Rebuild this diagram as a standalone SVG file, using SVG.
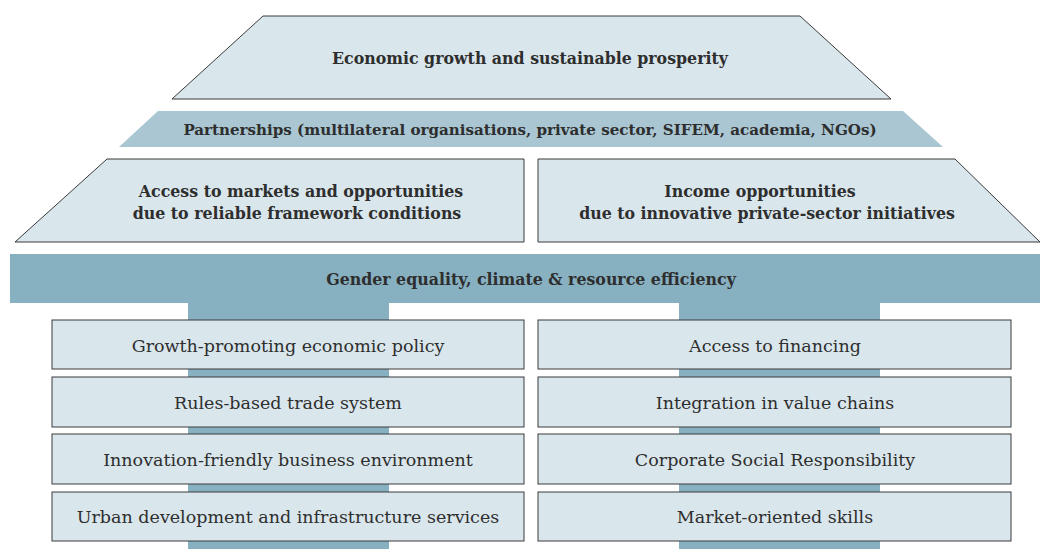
<svg xmlns="http://www.w3.org/2000/svg" width="1041" height="549" viewBox="0 0 1041 549">
<style>
.light{fill:#d9e6ec;stroke:#3a3a3a;stroke-width:1}
.band{fill:#87b0c1}
.pband{fill:#a9c6d2}
text{font-family:"DejaVu Serif","Liberation Serif",serif;fill:#2e2e2e;text-anchor:middle}
.b{font-weight:bold;font-size:15.8px}
.p{font-weight:bold;font-size:15.1px}
.r{font-size:17.5px}
</style>
<rect width="1041" height="549" fill="#ffffff"/>
<g id="pillars">
<rect class="band" x="188" y="300" width="201" height="249"/>
<rect class="band" x="679" y="300" width="201" height="249"/>
</g>
<g id="goal">
<polygon class="light" points="263,16 800,16 891,99 172,99"/>
<text class="b" x="530" y="64">Economic growth and sustainable prosperity</text>
</g>
<g id="partnerships">
<polygon class="pband" points="158,111 903,111 943,147 119,147"/>
<text class="p" x="530" y="135">Partnerships (multilateral organisations, private sector, SIFEM, academia, NGOs)</text>
</g>
<g id="access-markets">
<polygon class="light" points="107,159 524,159 524,242 15,242"/>
<text class="b" x="301" y="197">Access to markets and opportunities</text>
<text class="b" x="297" y="219">due to reliable framework conditions</text>
</g>
<g id="income">
<polygon class="light" points="538,159 955,159 1040,242 538,242"/>
<text class="b" x="760" y="197">Income opportunities</text>
<text class="b" x="767" y="219">due to innovative private-sector initiatives</text>
</g>
<g id="gender">
<rect class="band" x="10" y="254" width="1030" height="49"/>
<text class="b" x="531" y="285">Gender equality, climate &amp; resource efficiency</text>
</g>
<g id="l1"><rect class="light" x="52" y="320" width="472" height="49"/><text class="r" x="288" y="352">Growth-promoting economic policy</text></g>
<g id="l2"><rect class="light" x="52" y="377" width="472" height="50"/><text class="r" x="288" y="409">Rules-based trade system</text></g>
<g id="l3"><rect class="light" x="52" y="434" width="472" height="50"/><text class="r" x="288" y="466">Innovation-friendly business environment</text></g>
<g id="l4"><rect class="light" x="52" y="492" width="472" height="49"/><text class="r" x="288" y="523">Urban development and infrastructure services</text></g>
<g id="r1"><rect class="light" x="538" y="320" width="473" height="49"/><text class="r" x="775" y="352">Access to financing</text></g>
<g id="r2"><rect class="light" x="538" y="377" width="473" height="50"/><text class="r" x="775" y="409">Integration in value chains</text></g>
<g id="r3"><rect class="light" x="538" y="434" width="473" height="50"/><text class="r" x="775" y="466">Corporate Social Responsibility</text></g>
<g id="r4"><rect class="light" x="538" y="492" width="473" height="49"/><text class="r" x="775" y="523">Market-oriented skills</text></g>
<g id="connectors"></g>
</svg>
